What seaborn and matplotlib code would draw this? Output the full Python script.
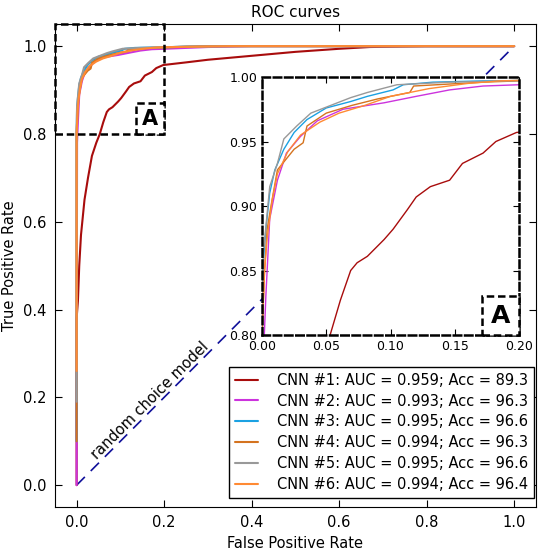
import numpy as np
import pandas as pd
import matplotlib
matplotlib.use('Agg')
import matplotlib.pyplot as plt
from matplotlib.patches import Rectangle
import seaborn as sns

models = ['CNN #1', 'CNN #2', 'CNN #3', 'CNN #4', 'CNN #5', 'CNN #6']
auc = [0.959, 0.993, 0.995, 0.994, 0.995, 0.994]
acc = [89.3, 96.3, 96.6, 96.3, 96.6, 96.4]
colors = ['#a80c0c', '#cc33dd', '#1ba1e2', '#d4731f', '#999999', '#ff8a33']

fpr_1 = [0, 0, 0.003, 0.006, 0.010, 0.013, 0.018, 0.026, 0.035, 0.045, 0.053, 0.061, 0.069, 0.074,
         0.082, 0.095, 0.102, 0.113, 0.120, 0.131, 0.146, 0.156, 0.172, 0.182, 0.198, 0.25, 0.30,
         0.40, 0.50, 0.60, 0.67, 0.80, 1.0]
tpr_1 = [0, 0.38, 0.42, 0.50, 0.57, 0.60, 0.65, 0.70, 0.75, 0.78, 0.80, 0.827, 0.850, 0.856,
         0.861, 0.874, 0.882, 0.897, 0.907, 0.915, 0.920, 0.933, 0.941, 0.950, 0.957, 0.963, 0.969,
         0.978, 0.987, 0.994, 0.998, 1.0, 1.0]
fpr_2 = [0, 0.001, 0.003, 0.006, 0.012, 0.019, 0.030, 0.043, 0.063, 0.095, 0.120, 0.146, 0.172,
         0.2, 0.25, 0.3, 0.4, 0.6, 1.0]
tpr_2 = [0, 0.78, 0.83, 0.89, 0.92, 0.941, 0.954, 0.966, 0.975, 0.980, 0.985, 0.990, 0.993,
         0.994, 0.996, 0.998, 1.0, 1.0, 1.0]
fpr_3 = [0, 0, 0.001, 0.003, 0.006, 0.010, 0.017, 0.025, 0.035, 0.050, 0.069, 0.082, 0.102,
         0.110, 0.133, 0.172, 0.188, 0.25, 0.35, 1.0]
tpr_3 = [0.10, 0.80, 0.856, 0.882, 0.910, 0.928, 0.944, 0.957, 0.967, 0.976, 0.981, 0.985, 0.990,
         0.994, 0.996, 0.997, 0.997, 0.999, 1.0, 1.0]
fpr_4 = [0, 0, 0.002, 0.004, 0.007, 0.012, 0.025, 0.032, 0.035, 0.050, 0.070, 0.090, 0.115,
         0.118, 0.172, 0.2, 0.3, 1.0]
tpr_4 = [0.10, 0.80, 0.85, 0.882, 0.90, 0.928, 0.944, 0.949, 0.962, 0.972, 0.978, 0.983, 0.988,
         0.993, 0.996, 0.997, 1.0, 1.0]
fpr_5 = [0, 0, 0.001, 0.006, 0.012, 0.017, 0.027, 0.038, 0.069, 0.082, 0.105, 0.146, 0.193,
         0.25, 0.35, 1.0]
tpr_5 = [0.19, 0.80, 0.863, 0.915, 0.933, 0.952, 0.962, 0.972, 0.984, 0.988, 0.994, 0.996, 0.997,
         0.999, 1.0, 1.0]
fpr_6 = [0, 0, 0.002, 0.004, 0.008, 0.012, 0.020, 0.030, 0.045, 0.060, 0.080, 0.100, 0.130,
         0.160, 0.185, 0.22, 0.35, 1.0]
tpr_6 = [0.26, 0.80, 0.85, 0.875, 0.905, 0.925, 0.942, 0.955, 0.965, 0.972, 0.978, 0.985, 0.991,
         0.995, 0.997, 0.998, 1.0, 1.0]

fprs = [fpr_1, fpr_2, fpr_3, fpr_4, fpr_5, fpr_6]
tprs = [tpr_1, tpr_2, tpr_3, tpr_4, tpr_5, tpr_6]

zoom_x = [0.0, 0.2]
zoom_y = [0.8, 1.0]

labels = ['{}: AUC = {:.3f}; Acc = {}'.format(m, a, c) for m, a, c in zip(models, auc, acc)]
frames = []
for lab, f, t in zip(labels, fprs, tprs):
    frames.append(pd.DataFrame({'fpr': f, 'tpr': t, 'model': lab}))
df = pd.concat(frames, ignore_index=True)
palette = dict(zip(labels, colors))

sns.set_style('ticks', rc={'xtick.direction': 'in', 'ytick.direction': 'in',
                           'xtick.top': True, 'ytick.right': True,
                           'axes.edgecolor': 'black', 'axes.linewidth': 1.0,
                           'text.color': 'black', 'axes.labelcolor': 'black'})
plt.rcParams['font.family'] = ['DejaVu Sans']

fig = plt.figure(figsize=(5.42, 5.5), dpi=100)
ax = fig.add_axes([0.101, 0.078, 0.888, 0.878])

ax.plot([0, 1], [0, 1], color='#10109a', lw=1.2, linestyle=(0, (7, 5)))
sns.lineplot(data=df, x='fpr', y='tpr', hue='model', palette=palette, sort=False,
             estimator=None, lw=1.5, ax=ax)
ax.set_xlim(-0.05, 1.05)
ax.set_ylim(-0.05, 1.05)
ax.set_xticks(np.arange(0, 1.01, 0.2))
ax.set_yticks(np.arange(0, 1.01, 0.2))
ax.tick_params(labelsize=10.5, length=5, width=0.8, colors='black', pad=6)
ax.set_xlabel('False Positive Rate', fontsize=10.5)
ax.set_ylabel('True Positive Rate', fontsize=10.5)
ax.set_title('ROC curves', fontsize=11, pad=5)

ax.text(0.167, 0.192, 'random choice model', rotation=45, rotation_mode='anchor',
        ha='center', va='center', fontsize=10.5)

# zoom region marker
ax.add_patch(Rectangle((-0.05, zoom_y[0]), zoom_x[1] + 0.05, 0.25, fill=False,
                       ec='black', lw=1.8, ls=(0, (3, 1.5)), zorder=5, clip_on=False))
ax.add_patch(Rectangle((0.135, zoom_y[0]), zoom_x[1] - 0.135, 0.07, fc='white',
                       ec='black', lw=1.8, ls=(0, (3, 1.5)), zorder=5))
ax.text(0.1675, 0.835, 'A', fontsize=15, fontweight='bold', ha='center', va='center', zorder=6)

handles, labs = ax.get_legend_handles_labels()
leg = ax.legend(handles, labs, loc='lower right', bbox_to_anchor=(1.0, 0.015),
                borderaxespad=0.15, fontsize=10.5, fancybox=False, framealpha=1,
                edgecolor='black', handlelength=1.6, handletextpad=1.3, labelspacing=0.4)
leg.get_frame().set_linewidth(1.0)

# inset zoom
axin = fig.add_axes([0.4834, 0.3909, 0.4742, 0.4691])
sns.lineplot(data=df, x='fpr', y='tpr', hue='model', palette=palette, sort=False,
             estimator=None, lw=1.0, ax=axin, legend=False)
axin.set_xlim(zoom_x)
axin.set_ylim(zoom_y)
axin.set_xticks(np.arange(0, 0.201, 0.05))
axin.set_yticks(np.arange(0.8, 1.001, 0.05))
axin.set_xticklabels(['{:.2f}'.format(v) for v in np.arange(0, 0.201, 0.05)])
axin.set_yticklabels(['{:.2f}'.format(v) for v in np.arange(0.8, 1.001, 0.05)])
axin.tick_params(labelsize=9, length=4, width=0.8, colors='black')
axin.set_xlabel('')
axin.set_ylabel('')
for s in axin.spines.values():
    s.set_linestyle((0, (3, 1.5)))
    s.set_linewidth(1.8)
axin.add_patch(Rectangle((0.171, zoom_y[0]), zoom_x[1] - 0.171, 0.03, fc='white',
                         ec='black', lw=1.8, ls=(0, (3, 1.5)), zorder=5, clip_on=False))
axin.text(0.1855, 0.815, 'A', fontsize=18, fontweight='bold', ha='center', va='center', zorder=6)

fig.savefig('out.png', dpi=100)
